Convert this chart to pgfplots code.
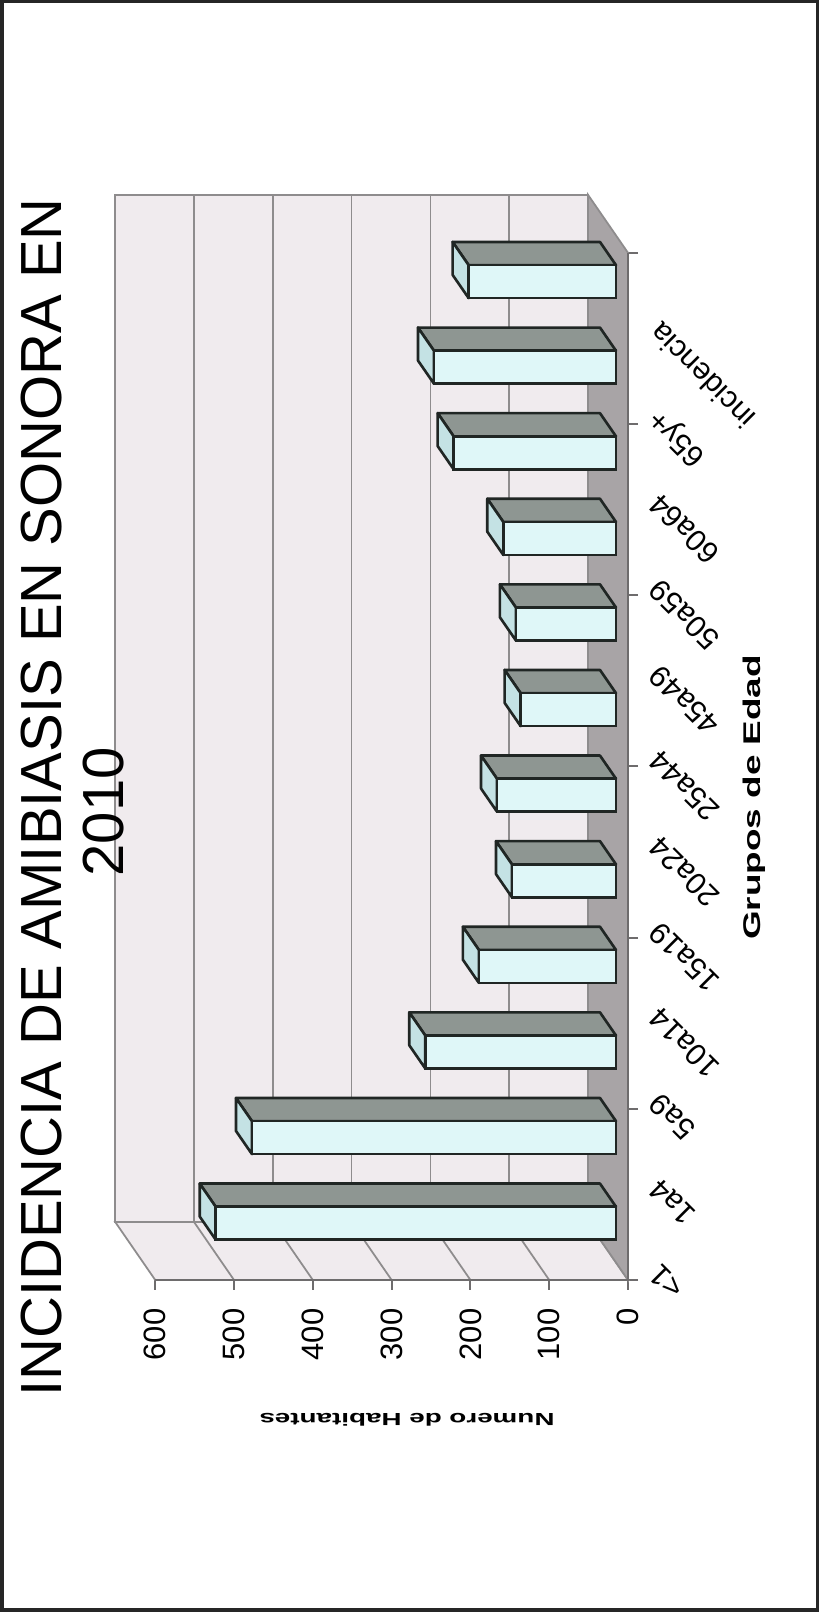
\documentclass[border=0pt]{standalone}
\usepackage{graphicx}
\usepackage{pgfplots}
\usepackage{pgfplotstable}
\pgfplotsset{compat=1.18}
\usepackage{fontspec}
\setmainfont{Liberation Sans}

\definecolor{wallc}{HTML}{F0EBEE}
\definecolor{floorc}{HTML}{A8A4A6}
\definecolor{gridc}{HTML}{8E8C8D}
\definecolor{axisc}{HTML}{6E6C6D}
\definecolor{frontc}{HTML}{DFF7F8}
\definecolor{topc}{HTML}{8E9692}
\definecolor{endc}{HTML}{C4E2E4}
\definecolor{edgec}{HTML}{202624}

% Incidencia de amibiasis por grupo de edad (pos = slot counted from the bottom)
\pgfplotstableread{
pos v
1 508
2 462
3 242
4 174
5 132
6 151
7 121
8 127
9 143
10 206
11 231
12 187
}\bardata

\begin{document}
\begin{tikzpicture}
\path[use as bounding box] (0,0) rectangle (8.19,16.12);
\draw[line width=0.035cm, black!85] (0.0175,0.0175) rectangle (8.1725,16.1025);
\begin{axis}[
  at={(3.716cm,8.746cm)}, anchor=center,
  scale only axis, width=5.128cm, height=10.852cm,
  x dir=reverse,
  xmin=-15.24, xmax=635.56, ymin=-0.203, ymax=12.475,
  clip=false,
  axis line style={draw=none},
  tick align=outside,
  major tick length=0.1cm,
  xtick pos=left, ytick pos=right,
  xticklabel pos=left, yticklabel pos=right,
  xtick={-15.24,84.76,184.76,284.76,384.76,484.76,584.76},
  xticklabels={0,100,200,300,400,500,600},
  xticklabel style={rotate=90, anchor=east, inner sep=0pt, font=\fontsize{8.8}{10}\selectfont},
  xticklabel shift=0.18cm,
  xtick style={draw=axisc, line width=0.6pt},
  ytick={-0.08,0.92,1.92,2.92,3.92,4.92,5.92,6.92,7.92,8.92,9.92,10.92},
  yticklabels={<1,1a4,5a9,10a14,15a19,20a24,25a44,45a49,50a59,60a64,65y+,incidencia},
  yticklabel style={rotate=135, anchor=east, inner sep=0pt, font=\fontsize{8.6}{10}\selectfont},
  yticklabel shift=0.16cm,
  ytick style={draw=none},
  extra y ticks={-0.203,1.797,3.797,5.797,7.797,9.797,11.797},
  extra y tick labels={},
  extra y tick style={ytick style={draw=axisc, line width=0.6pt}},
  no markers,
]
% back wall, side wall, floor
\addplot[fill=wallc, draw=gridc, line width=0.5pt] coordinates {(35.56,0.475) (635.56,0.475) (635.56,12.475) (35.56,12.475)} --cycle;
\addplot[fill=wallc, draw=gridc, line width=0.5pt] coordinates {(-15.24,-0.203) (584.76,-0.203) (635.56,0.475) (35.56,0.475)} --cycle;
\addplot[fill=floorc, draw=gridc, line width=0.5pt] coordinates {(-15.24,-0.203) (35.56,0.475) (35.56,12.475) (-15.24,11.797)} --cycle;
% gridlines
\pgfplotsinvokeforeach{100,200,300,400,500}{
  \pgfmathsetmacro\gxb{#1+35.56}
  \pgfmathsetmacro\gxf{#1-15.24}
  \addplot[draw=gridc, line width=0.5pt] coordinates {(\gxb,0.475) (\gxb,12.475)};
  \addplot[draw=gridc, line width=0.5pt] coordinates {(\gxf,-0.203) (\gxb,0.475)};
}
% front axis lines
\addplot[draw=axisc, line width=0.6pt] coordinates {(-15.24,11.797) (-15.24,-0.203) (584.76,-0.203)};
% 3D faces of the bars
\pgfplotsinvokeforeach{0,...,11}{
  \pgfplotstablegetelem{#1}{v}\of\bardata
  \pgfmathsetmacro\bv{\pgfplotsretval}
  \pgfmathsetmacro\bvb{\bv+20.32}
  \pgfmathsetmacro\bcl{#1+0.2675}
  \pgfmathsetmacro\bch{#1+0.6525}
  \pgfmathsetmacro\bcld{#1+0.5385}
  \pgfmathsetmacro\bchd{#1+0.9235}
  \addplot[fill=topc, draw=edgec, line width=0.75pt, line join=round] coordinates {(0,\bch) (\bv,\bch) (\bvb,\bchd) (20.32,\bchd)} --cycle;
  \addplot[fill=endc, draw=edgec, line width=0.75pt, line join=round] coordinates {(\bv,\bcl) (\bv,\bch) (\bvb,\bchd) (\bvb,\bcld)} --cycle;
}
% front faces
\addplot[xbar, bar width=0.385, fill=frontc, draw=edgec, line width=0.75pt] table[x=v, y expr=\thisrow{pos}-0.54] {\bardata};
\end{axis}
\node[rotate=90, font=\fontsize{16.5}{19}\selectfont] at (0.42,8.145) {INCIDENCIA DE AMIBIASIS EN SONORA EN};
\node[rotate=90, font=\fontsize{16.5}{19}\selectfont] at (1.04,8.00) {2010};
\node[rotate=180] at (4.07,1.92) {\resizebox{2.95cm}{0.127cm}{\bfseries Numero de Habitantes}};
\node[rotate=90] at (7.54,8.145) {\resizebox{2.85cm}{0.175cm}{\bfseries Grupos de Edad}};
\end{tikzpicture}
\end{document}
